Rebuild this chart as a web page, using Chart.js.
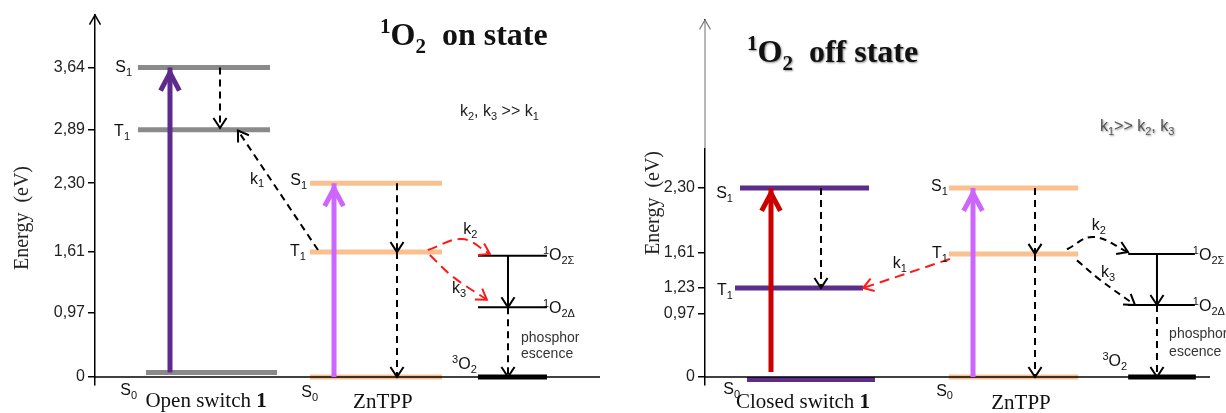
<!DOCTYPE html>
<html><head><meta charset="utf-8">
<script src="https://cdn.jsdelivr.net/npm/chart.js@4/dist/chart.umd.min.js"></script>
<style>
html,body{margin:0;padding:0;background:#fff;}
#wrap{position:relative;width:1226px;height:413px;overflow:hidden;background:#fff;}
canvas{position:absolute;top:0;}
#cOn{left:0}
#cOff{left:610px}
</style></head><body>
<div id="wrap"><canvas id="cOn" width="610" height="413"></canvas><canvas id="cOff" width="616" height="413"></canvas></div>
<script>
// ================= DATA (energies in eV) =================
const onTickValues  = [0, 0.97, 1.61, 2.30, 2.89, 3.64];
const onTickLabels  = ['0', '0,97', '1,61', '2,30', '2,89', '3,64'];
const offTickValues = [0, 0.97, 1.23, 1.61, 2.30];
const offTickLabels = ['0', '0,97', '1,23', '1,61', '2,30'];

const switchStates       = ['S0', 'T1', 'S1'];
const openSwitchEnergy   = [0.07, 2.89, 3.64];
const closedSwitchEnergy = [-0.03, 1.23, 2.30];
const zntppStates        = ['S0', 'T1', 'S1'];
const zntppEnergyOn      = [0, 1.61, 2.30];
const zntppEnergyOff     = [0, 1.60, 2.30];
const oxygenStates       = ['3O2', '1O2Δ', '1O2Σ'];
const oxygenEnergyOn     = [0, 1.03, 1.57];
const oxygenEnergyOff    = [0, 1.06, 1.60];

// ================= LAYOUT / STYLE =================
// the drawing is not to scale: piecewise mapping energy -> drawn height
const WARPS = {
  cOn:  {e: [-1, 0, 0.97, 1.61, 2.30, 2.89, 3.64, 6], v: [-1, 0, 0.753, 1.47, 2.28, 2.91, 3.64, 6]},
  cOff: {e: [-1, 0, 0.97, 1.23, 1.61, 2.30, 6],       v: [-1, 0, 0.741, 1.047, 1.459, 2.224, 5.924]}
};
function interp(xs, ys, x) {
  for (let i = 0; i < xs.length - 1; i++) {
    if (x <= xs[i + 1] || i === xs.length - 2) {
      const t = (x - xs[i]) / (xs[i + 1] - xs[i]);
      return ys[i] + t * (ys[i + 1] - ys[i]);
    }
  }
  return x;
}
class WarpScale extends Chart.LinearScale {
  static id = 'warp';
  static defaults = Chart.LinearScale.defaults;
  _w() { return WARPS[this.chart.canvas.id]; }
  getPixelForValue(value) {
    const w = this._w();
    const u = interp(w.e, w.v, value), u0 = interp(w.e, w.v, this.min), u1 = interp(w.e, w.v, this.max);
    return this.getPixelForDecimal((u - u0) / (u1 - u0));
  }
  getValueForPixel(pixel) {
    const w = this._w();
    const d = this.getDecimalForPixel(pixel);
    const u0 = interp(w.e, w.v, this.min), u1 = interp(w.e, w.v, this.max);
    return interp(w.v, w.e, u0 + d * (u1 - u0));
  }
}
Chart.register(WarpScale);

const C = {
  gray: '#8a8a8a', orange: '#fac08f', purple: '#5c2d8a', purpleArrow: '#5e2b8c',
  violet: '#cc66ff', red: '#cc0000', redDash: '#ff1a1a', black: '#000'
};
const DASH = [7, 5];
const RED_DASH = [10, 6];
const HEAD_THICK = {len: 20, ang: 28, width: 5};
const HEAD_THIN = {len: 12, ang: 33, width: 2};

function seg(x0, y0, x1, y1, color, width, extra) {
  return Object.assign({
    data: [{x: x0, y: y0}, {x: x1, y: y1}], borderColor: color, borderWidth: width,
    pointRadius: 0, fill: false, tension: 0, borderCapStyle: 'butt'
  }, extra || {});
}
function curve(pts, color, extra) {
  return Object.assign({
    data: pts.map(p => ({x: p[0], y: p[1]})), borderColor: color, borderWidth: 2,
    pointRadius: 0, fill: false, tension: 0.4, borderDash: DASH, borderCapStyle: 'butt'
  }, extra || {});
}
function levels(range, energies, color, width) {
  return energies.map(e => seg(range[0], e, range[1], e, color, width));
}

// ---------------- ON state ----------------
const eO = i => openSwitchEnergy[i], zOn = i => zntppEnergyOn[i], oOn = i => oxygenEnergyOn[i];
const onDatasets = [
  seg(14.85, eO(0), 14.85, eO(2), C.purpleArrow, 5, {head: Object.assign({color: C.purpleArrow}, HEAD_THICK)}),
  seg(24.75, eO(2), 24.75, 2.91, C.black, 2, {borderDash: DASH, head: Object.assign({color: C.black}, HEAD_THIN)}),
  seg(44.16, 1.63, 28.3, 2.88, C.black, 2, {borderDash: DASH, head: Object.assign({color: C.black}, HEAD_THIN)}),
  seg(47.33, zOn(0), 47.33, zOn(2), C.violet, 5, {head: Object.assign({color: C.violet}, HEAD_THICK)}),
  seg(59.8, zOn(2), 59.8, zOn(1), C.black, 2, {borderDash: DASH, head: Object.assign({color: C.black}, HEAD_THIN)}),
  seg(59.8, zOn(1), 59.8, zOn(0), C.black, 2, {borderDash: DASH, head: Object.assign({color: C.black}, HEAD_THIN)}),
  curve([[65.9, 1.63], [72.7, 1.74], [78.2, 1.59]], C.redDash, {borderDash: RED_DASH, head: Object.assign({color: C.redDash}, HEAD_THIN)}),
  curve([[66.3, 1.58], [70.9, 1.35], [77.6, 1.11]], C.redDash, {borderDash: RED_DASH, head: Object.assign({color: C.redDash}, HEAD_THIN)}),
  seg(81.78, oOn(2), 81.78, oOn(1), C.black, 2, {head: Object.assign({color: C.black}, HEAD_THIN)}),
  seg(81.78, oOn(1), 81.78, oOn(0), C.black, 2, {borderDash: DASH, head: Object.assign({color: C.black}, HEAD_THIN)}),
  seg(0, 0, 100, 0, C.black, 1.5),
  ...levels([8.51, 34.65], [eO(1), eO(2)], C.gray, 5),
  ...levels([10.1, 36.04], [eO(0)], C.gray, 5),
  ...levels([42.57, 68.71], zntppEnergyOn, C.orange, 5),
  ...levels([75.84, 89.5], [oOn(1), oOn(2)], C.black, 2),
  ...levels([75.84, 89.5], [oOn(0)], C.black, 5)
];
const onTexts = [
  {s: 'S_{1}', u: 7.33, e: 3.66, align: 'right'},
  {s: 'T_{1}', u: 6.93, e: 2.88, align: 'right'},
  {s: 'S_{0}', u: 8.32, e: -0.14, align: 'right'},
  {s: 'S_{1}', u: 41.98, e: 2.34, align: 'right'},
  {s: 'T_{1}', u: 41.78, e: 1.63, align: 'right'},
  {s: 'S_{0}', u: 44.16, e: -0.165, align: 'right'},
  {s: '^{1}O_{2Σ}', u: 88.7, e: 1.59, align: 'left'},
  {s: '^{1}O_{2Δ}', u: 88.7, e: 1.03, align: 'left'},
  {s: '^{3}O_{2}', u: 75.6, e: 0.21, align: 'right'},
  {s: 'phosphor', u: 84.36, e: 0.606, align: 'left', size: 14, color: '#333'},
  {s: 'escence', u: 84.36, e: 0.364, align: 'left', size: 14, color: '#333'},
  {s: 'k_{1}', u: 32.1, e: 2.36, align: 'center'},
  {s: 'k_{2}', u: 74.3, e: 1.85, align: 'center'},
  {s: 'k_{3}', u: 72.1, e: 1.24, align: 'center'},
  {s: 'Open switch *{1}', u: 22.0, py: 407, align: 'center', size: 21, family: 'Liberation Serif', base: true},
  {s: 'ZnTPP', u: 57.0, py: 408, align: 'center', size: 21, family: 'Liberation Serif', base: true},
  {s: 'k_{2}, k_{3} >> k_{1}', px: 460, py: 110, align: 'left', color: '#222'},
  {s: '^{1}O_{2}  on state', px: 380, py: 45, align: 'left', size: 32, family: 'Liberation Serif', weight: 'bold', base: true}
];

// ---------------- OFF state ----------------
const eC = i => closedSwitchEnergy[i], zOff = i => zntppEnergyOff[i], oOff = i => oxygenEnergyOff[i];
const offDatasets = [
  seg(13.07, 0.077, 13.07, eC(2), C.red, 5, {head: Object.assign({color: C.red}, HEAD_THICK)}),
  seg(22.97, eC(2), 22.97, eC(1), C.black, 2, {borderDash: DASH, head: Object.assign({color: C.black}, HEAD_THIN)}),
  seg(48.5, 1.545, 31.3, eC(1), C.redDash, 2, {borderDash: RED_DASH, head: Object.assign({color: C.redDash}, HEAD_THIN)}),
  seg(53.07, zOff(0), 53.07, zOff(2), C.violet, 5, {head: Object.assign({color: C.violet}, HEAD_THICK)}),
  seg(65.35, zOff(2), 65.35, zOff(1), C.black, 2, {borderDash: DASH, head: Object.assign({color: C.black}, HEAD_THIN)}),
  seg(65.35, zOff(1), 65.35, zOff(0), C.black, 2, {borderDash: DASH, head: Object.assign({color: C.black}, HEAD_THIN)}),
  curve([[71.68, 1.65], [76.83, 1.78], [83.76, 1.62]], C.black, {head: Object.assign({color: C.black}, HEAD_THIN)}),
  curve([[73.66, 1.53], [78.2, 1.32], [85.15, 1.06]], C.black, {head: Object.assign({color: C.black}, HEAD_THIN)}),
  seg(89.5, oOff(2), 89.5, oOff(1), C.black, 2, {head: Object.assign({color: C.black}, HEAD_THIN)}),
  seg(89.5, oOff(1), 89.5, oOff(0), C.black, 2, {borderDash: DASH, head: Object.assign({color: C.black}, HEAD_THIN)}),
  seg(0, 0, 100, 0, C.black, 1.5),
  ...levels([6.93, 32.48], [eC(2)], C.purple, 5),
  ...levels([5.94, 31.29], [eC(1)], C.purple, 5),
  ...levels([8.32, 33.66], [eC(0)], C.purple, 5),
  ...levels([48.3, 73.9], zntppEnergyOff, C.orange, 5),
  ...levels([83.8, 97.0], [oOff(1), oOff(2)], C.black, 2),
  ...levels([83.8, 97.2], [oOff(0)], C.black, 5)
];
const offTexts = [
  {s: 'S_{1}', u: 5.54, e: 2.25, align: 'right'},
  {s: 'T_{1}', u: 5.54, e: 1.22, align: 'right'},
  {s: 'S_{0}', u: 6.93, e: -0.13, align: 'right'},
  {s: 'S_{1}', u: 48.1, e: 2.33, align: 'right'},
  {s: 'T_{1}', u: 48.1, e: 1.62, align: 'right'},
  {s: 'S_{0}', u: 49.1, e: -0.15, align: 'right'},
  {s: '^{1}O_{2Σ}', u: 96.6, e: 1.60, align: 'left'},
  {s: '^{1}O_{2Δ}', u: 96.6, e: 1.06, align: 'left'},
  {s: '^{3}O_{2}', u: 83.6, e: 0.26, align: 'right'},
  {s: 'phosphor', u: 91.9, e: 0.678, align: 'left', size: 14, color: '#333'},
  {s: 'escence', u: 91.9, e: 0.40, align: 'left', size: 14, color: '#333'},
  {s: 'k_{1}', u: 38.6, e: 1.51, align: 'center'},
  {s: 'k_{2}', u: 78.0, e: 1.91, align: 'center'},
  {s: 'k_{3}', u: 79.8, e: 1.41, align: 'center'},
  {s: 'Closed switch *{1}', u: 19.4, py: 408, align: 'center', size: 21, family: 'Liberation Serif', base: true},
  {s: 'ZnTPP', u: 62.57, py: 409, align: 'center', size: 21, family: 'Liberation Serif', base: true},
  {s: 'k_{1}>> k_{2}, k_{3}', px: 490, py: 125, align: 'left', color: '#555', shadow: true},
  {s: '^{1}O_{2}  off state', px: 137, py: 62, align: 'left', size: 32, family: 'Liberation Serif', weight: 'bold', base: true, shadow: true}
];

// ================= DRAWING HELPERS =================
function parseRich(s) {
  const out = []; const re = /([_^*])\{([^}]*)\}/g; let last = 0, m;
  while ((m = re.exec(s))) {
    if (m.index > last) out.push({t: s.slice(last, m.index), k: 'n'});
    out.push({t: m[2], k: m[1]}); last = re.lastIndex;
  }
  if (last < s.length) out.push({t: s.slice(last), k: 'n'});
  return out;
}
function drawRich(ctx, s, x, y, o) {
  const size = o.size || 16, fam = o.family || 'Liberation Sans', wt = o.weight || 'normal';
  const parts = parseRich(s);
  const small = p => p.k === '_' || p.k === '^';
  const fontFor = p => `${p.k === '*' ? 'bold' : wt} ${small(p) ? Math.round(size * 0.66) : size}px "${fam}"`;
  ctx.save();
  let total = 0;
  for (const p of parts) { ctx.font = fontFor(p); p.w = ctx.measureText(p.t).width; total += p.w; }
  let cx = o.align === 'center' ? x - total / 2 : o.align === 'right' ? x - total : x;
  const base = o.base ? y : y + size * 0.36;
  ctx.fillStyle = o.color || '#111';
  ctx.textAlign = 'left'; ctx.textBaseline = 'alphabetic';
  if (o.shadow) { ctx.shadowColor = 'rgba(0,0,0,0.45)'; ctx.shadowBlur = 2; ctx.shadowOffsetX = 1; ctx.shadowOffsetY = 1; }
  for (const p of parts) {
    ctx.font = fontFor(p);
    const dy = p.k === '_' ? size * 0.24 : p.k === '^' ? -size * 0.36 : 0;
    ctx.fillText(p.t, cx, base + dy);
    cx += p.w;
  }
  ctx.restore();
}
function arrowHead(ctx, tip, from, h) {
  const a = Math.atan2(tip.y - from.y, tip.x - from.x);
  const ang = h.ang * Math.PI / 180;
  const back = h.width > 2 ? h.width / 2 / Math.sin(ang) : 0;
  const tx = tip.x - back * Math.cos(a), ty = tip.y - back * Math.sin(a);
  ctx.save();
  ctx.beginPath();
  ctx.moveTo(tx - h.len * Math.cos(a - ang), ty - h.len * Math.sin(a - ang));
  ctx.lineTo(tx, ty);
  ctx.lineTo(tx - h.len * Math.cos(a + ang), ty - h.len * Math.sin(a + ang));
  ctx.strokeStyle = h.color; ctx.lineWidth = h.width; ctx.lineJoin = 'miter'; ctx.lineCap = 'butt';
  ctx.setLineDash([]);
  ctx.stroke();
  ctx.restore();
}

function makeChart(id, datasets, ticksV, ticksL, yMax, padTop, padRight, texts, extra) {
  const annot = {
    id: 'annot',
    afterDatasetsDraw(chart) {
      const ctx = chart.ctx, xs = chart.scales.x, ys = chart.scales.y;
      chart.data.datasets.forEach((ds, i) => {
        if (!ds.head) return;
        const pts = chart.getDatasetMeta(i).data;
        arrowHead(ctx, pts[pts.length - 1], pts[pts.length - 2], ds.head);
      });
      // axis top: optional gray part + open arrow
      const ax = ys.right, top = ys.top;
      let headColor = '#000', headW = 1.5;
      if (extra.grayTo !== undefined) {
        const yg = ys.getPixelForValue(extra.grayTo);
        ctx.save();
        ctx.strokeStyle = '#fff'; ctx.lineWidth = 3;
        ctx.beginPath(); ctx.moveTo(ax, top); ctx.lineTo(ax, yg); ctx.stroke();
        ctx.strokeStyle = '#888'; ctx.lineWidth = 1.2;
        ctx.beginPath(); ctx.moveTo(ax, top); ctx.lineTo(ax, yg); ctx.stroke();
        ctx.restore();
        headColor = '#777'; headW = 1.2;
      }
      arrowHead(ctx, {x: ax, y: top}, {x: ax, y: top + 50}, {len: 11, ang: 30, width: headW, color: headColor});
      // texts
      texts.forEach(t => {
        const x = t.u !== undefined ? xs.getPixelForValue(t.u) : t.px;
        const y = t.e !== undefined ? ys.getPixelForValue(t.e) : t.py;
        drawRich(ctx, t.s, x, y, t);
      });
      // y title
      ctx.save();
      ctx.translate(extra.titleX, extra.titleY);
      ctx.rotate(-Math.PI / 2);
      drawRich(ctx, 'Energy  (eV)', 0, 0, {size: 20, family: 'Liberation Serif', align: 'center', color: '#222'});
      ctx.restore();
    }
  };
  return new Chart(document.getElementById(id), {
    type: 'line',
    data: {datasets},
    options: {
      responsive: false, animation: false, events: [],
      layout: {padding: {left: 0, right: padRight, top: padTop, bottom: 28}},
      plugins: {legend: {display: false}, tooltip: {enabled: false}},
      scales: {
        x: {type: 'linear', min: 0, max: 100, display: false},
        y: {
          type: 'warp', min: -0.094, max: yMax,
          afterFit: s => { s.width = 95; },
          afterBuildTicks: s => { s.ticks = ticksV.map(v => ({value: v})); },
          ticks: {callback: (v, i) => ticksL[i], font: {family: 'Liberation Sans', size: 16}, color: '#222', padding: 3, autoSkip: false, maxRotation: 0},
          grid: {drawOnChartArea: false, drawTicks: true, tickLength: 7, color: '#000', lineWidth: 1.5},
          border: {display: true, color: '#000', width: 1.5}
        }
      }
    },
    plugins: [annot]
  });
}

makeChart('cOn', onDatasets, onTickValues, onTickLabels, 4.259, 15, 10, onTexts, {titleX: 21, titleY: 218});
makeChart('cOff', offDatasets, offTickValues, offTickLabels, 4.276, 20, 16, offTexts, {titleX: 42, titleY: 203, grayTo: 2.77});
</script>
</body></html>
